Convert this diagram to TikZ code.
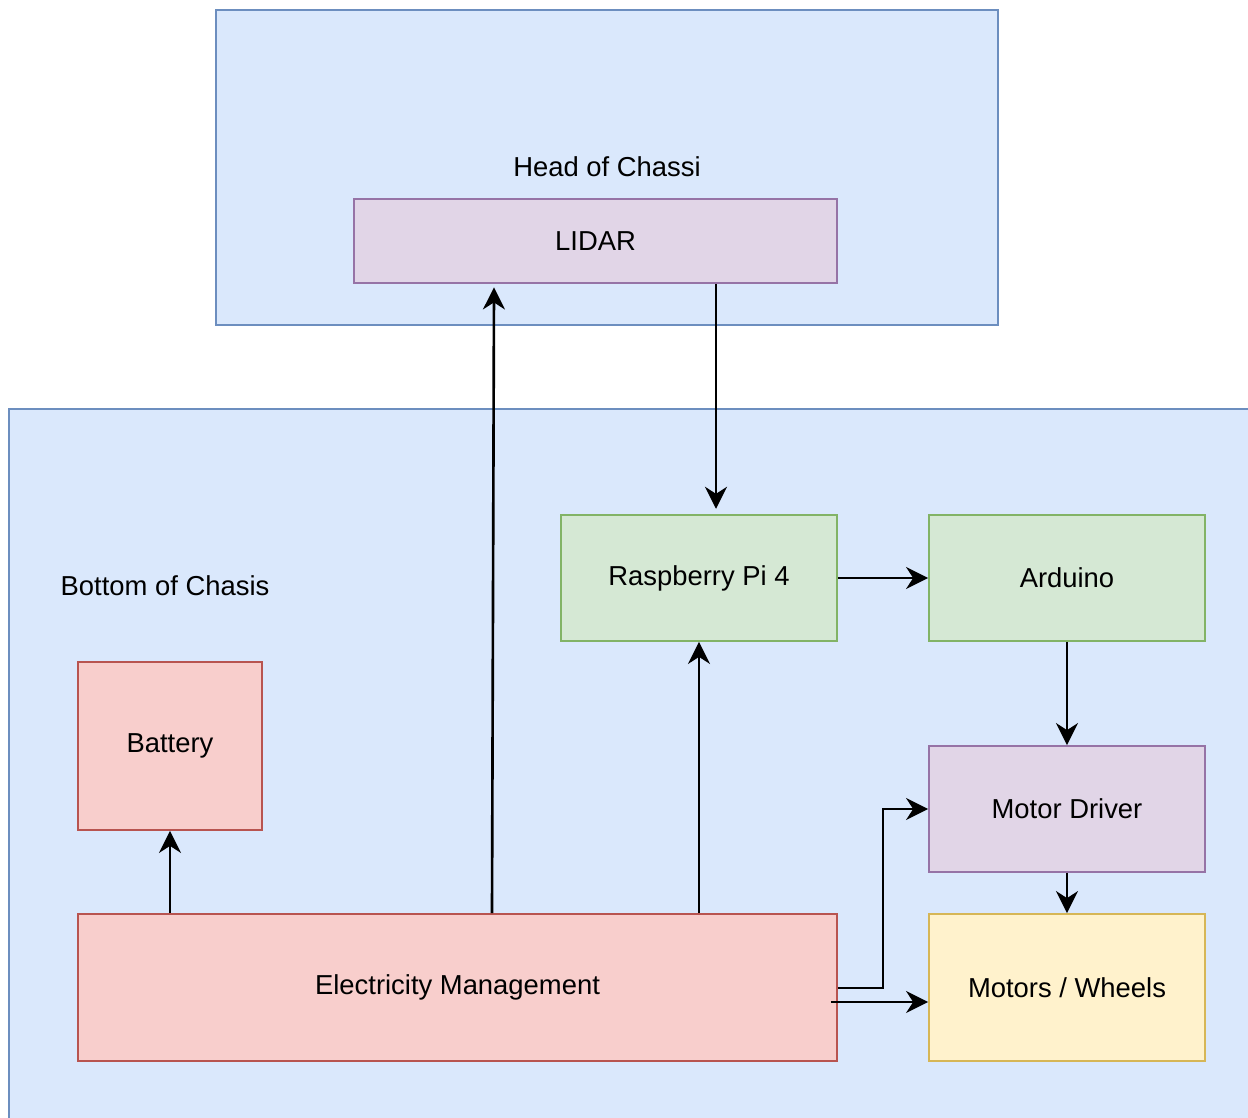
\documentclass[tikz,border=0pt]{standalone}
\usepackage{fontspec}
\setmainfont{Liberation Sans}
\usetikzlibrary{arrows.meta}

\definecolor{areafill}{HTML}{DAE8FC}
\definecolor{areadraw}{HTML}{6C8EBF}
\definecolor{purfill}{HTML}{E1D5E7}
\definecolor{purdraw}{HTML}{9673A6}
\definecolor{grnfill}{HTML}{D5E8D4}
\definecolor{grndraw}{HTML}{82B366}
\definecolor{redfill}{HTML}{F8CECC}
\definecolor{reddraw}{HTML}{B85450}
\definecolor{ylwfill}{HTML}{FFF2CC}
\definecolor{ylwdraw}{HTML}{D6B656}

\tikzset{
  area/.style={draw=areadraw, fill=areafill, line width=1pt, inner sep=0pt},
  block/.style={rectangle, line width=1.1pt, inner sep=0pt, font=\fontsize{15.6}{18}\selectfont},
  purblock/.style={block, draw=purdraw, fill=purfill},
  grnblock/.style={block, draw=grndraw, fill=grnfill},
  redblock/.style={block, draw=reddraw, fill=redfill},
  ylwblock/.style={block, draw=ylwdraw, fill=ylwfill},
  conn/.style={-{Stealth[length=12.5pt,width=12.5pt,inset=4pt]}, line width=1.5pt},
  txt/.style={font=\fontsize{15.6}{18}\selectfont}
}

\begin{document}
\begin{tikzpicture}[x=0.02cm, y=-0.02cm]
    % 1) Page size and clipping
    \useasboundingbox (0,0) rectangle (1248,1118);
    \clip (0,0) rectangle (1248,1118);

    % 2) The two chassis areas
    \node[area, minimum width=15.64cm, minimum height=6.3cm] (head) at (607,167.5) {};
    \node[txt] (headtext) at (607,167) {Head of Chassi};
    \node[area, minimum width=25.2cm, minimum height=14.6cm] (bottom) at (639,774) {};
    \node[txt] (bottomtext) at (165,586) {Bottom of Chasis};

    % 3) The blocks
    \node[purblock, minimum width=9.66cm, minimum height=1.68cm] (lidar) at (595.5,241) {LIDAR};
    \node[grnblock, minimum width=5.52cm, minimum height=2.52cm] (rpi) at (699,578) {Raspberry Pi 4};
    \node[grnblock, minimum width=5.52cm, minimum height=2.52cm] (arduino) at (1067,578) {Arduino};
    \node[redblock, minimum width=3.68cm, minimum height=3.36cm] (battery) at (170,746) {Battery};
    \node[purblock, minimum width=5.52cm, minimum height=2.52cm] (driver) at (1067,809) {Motor Driver};
    \node[redblock, minimum width=15.18cm, minimum height=2.94cm] (power) at (457.5,987.5) {Electricity Management};
    \node[ylwblock, minimum width=5.52cm, minimum height=2.94cm] (wheels) at (1067,987.5) {Motors / Wheels};

    % 4) Connectors
    \draw[conn] (power.north -| 492,0) -- ([yshift=-2pt]lidar.south -| 494,0);
    \draw[conn] (lidar.south -| 716,0) -- ([yshift=3pt]rpi.north -| 716,0);
    \draw[conn] (power.north -| 699,0) -- (rpi.south -| 699,0);
    \draw[conn] (power.north -| battery.south) -- (battery.south);
    \draw[conn] (rpi.east) -- (arduino.west);
    \draw[conn] (arduino.south) -- (driver.north);
    \draw[conn] (driver.south) -- (wheels.north);
    % power goes both ways to the motor side
    \draw[conn] (power.east |- 0,988) -| (883,809) -- (driver.west);
    \draw[conn] ([xshift=-4pt]power.east |- 0,1002) -- (wheels.west |- 0,1002);
\end{tikzpicture}
\end{document}
